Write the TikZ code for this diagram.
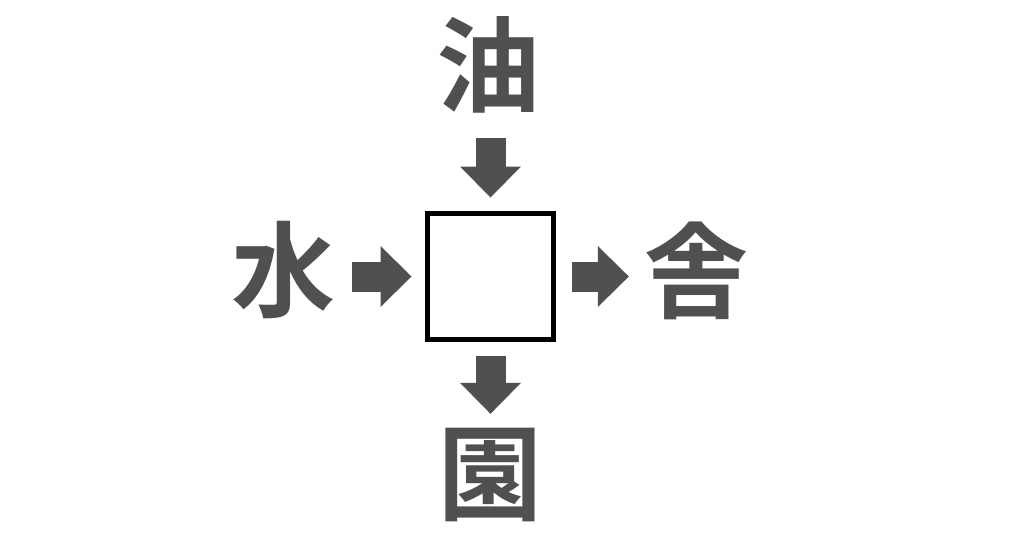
\documentclass[tikz,border=0pt]{standalone}
\usepackage{fontspec}
\usepackage{xcolor}
\usepackage{tikz}
\usetikzlibrary{arrows.meta}
\newfontfamily\cjk[BoldFont={Noto Sans CJK JP Bold}]{Noto Sans CJK JP}
\definecolor{inkgray}{RGB}{80,80,80}

\begin{document}
\begin{tikzpicture}[x=1pt,y=-1pt,
blank/.style={draw=black,line width=5pt,minimum size=126pt,inner sep=0pt},
kanji/.style={text=inkgray,minimum size=100pt,inner sep=0pt,
  font=\cjk\bfseries\fontsize{104}{104}\selectfont},
blk/.style={draw=inkgray,line width=30pt,
  -{Triangle[length=31pt,width=61pt,line width=0pt]}}]
\useasboundingbox[fill=white] (0,0) rectangle (1024,538);
\node[blank] (box) at (490.5,276.5) {};
\node[kanji] (top) at (488.5,65) {油};
\node[kanji] (left) at (283.5,270) {水};
\node[kanji] (right) at (696,270.5) {舎};
\node[kanji] (bottom) at (490,474.5) {園};
\draw[blk,shorten <=23pt,shorten >=13.5pt] (top.south -| box.north)--(box.north);
\draw[blk,shorten <=16.5pt,shorten >=13.5pt] (left.east |- box.west)--(box.west);
\draw[blk,shorten <=15.5pt,shorten >=15pt] (box.east)--(right.west |- box.east);
\draw[blk,shorten <=13.5pt,shorten >=10.5pt] (box.south)--(bottom.north -| box.south);
\end{tikzpicture}
\end{document}
